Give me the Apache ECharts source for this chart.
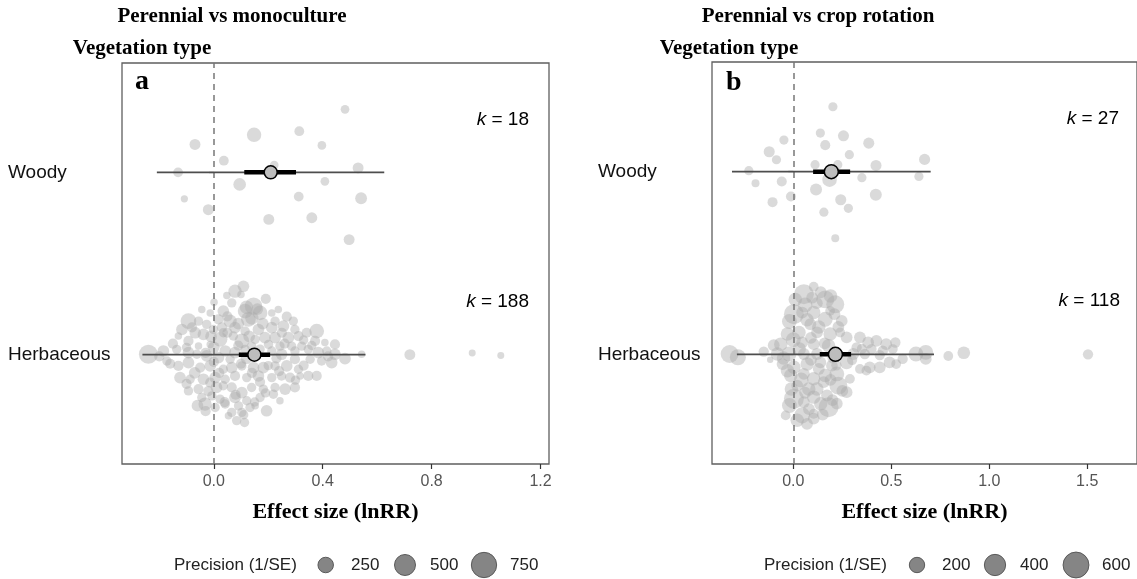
<!DOCTYPE html>
<html><head><meta charset="utf-8">
<script src="https://cdn.jsdelivr.net/npm/echarts@6/dist/echarts.min.js"></script>
<style>html,body{margin:0;padding:0;background:#fff}#c{width:1137px;height:579px}</style>
</head><body><div id="c"></div>
<script>
// ---------------- DATA ----------------
const categories = ['Herbaceous', 'Woody'];          // y positions 1 and 2
const panelTitles = ['Perennial vs monoculture', 'Perennial vs crop rotation'];
const panelLetters = ['a', 'b'];
const groupLabel = 'Vegetation type';
const xAxisTitle = 'Effect size (lnRR)';
const legendTitle = 'Precision (1/SE)';
const kA = [188, 18];   // [Herbaceous, Woody]
const kB = [118, 27];
const xTicksA = [0, 0.4, 0.8, 1.2];
const xTicksB = [0, 0.5, 1.0, 1.5];
const legendValuesA = [250, 500, 750];
const legendValuesB = [200, 400, 600];

// summary rows: [estimate, ciLow, ciHigh, piLow, piHigh]
const summaryA_Herb  = [0.149, 0.092, 0.207, -0.262, 0.557];
const summaryA_Woody = [0.209, 0.112, 0.302, -0.209, 0.626];
const summaryB_Herb  = [0.215, 0.135, 0.295, -0.288, 0.718];
const summaryB_Woody = [0.194, 0.101, 0.290, -0.313, 0.701];

// individual effect sizes: [lnRR, vertical jitter, precision]
const pointsA_Woody = [
[0.482,0.346,45],[0.148,0.206,210],[0.314,0.226,70],[-0.069,0.153,100],[0.397,0.148,45],[0.037,0.064,70],
[0.222,0.040,45],[-0.131,0.000,70],[0.530,0.024,100],[0.095,-0.066,150],[0.408,-0.049,45],[-0.108,-0.145,15],
[0.312,-0.133,70],[0.541,-0.142,125],[-0.020,-0.205,100],[0.202,-0.258,100],[0.360,-0.249,100],[0.497,-0.369,100]
];
const pointsA_Herb = [
[0.109,0.375,120],[0.078,0.348,170],[0.048,0.324,20],[0.100,0.330,20],[0.191,0.306,80],[0.001,0.288,20],
[-0.044,0.248,20],[0.066,0.284,60],[0.146,0.266,330],[0.115,0.239,220],[0.170,0.229,220],[0.035,0.239,120],
[-0.013,0.229,20],[0.213,0.229,20],[0.237,0.248,20],[0.268,0.208,80],[-0.093,0.184,260],[-0.056,0.184,60],
[0.017,0.193,80],[0.060,0.184,170],[0.127,0.193,220],[0.225,0.184,60],[0.292,0.184,60],[-0.026,0.166,60],
[0.078,0.148,120],[0.164,0.138,120],[0.213,0.148,120],[0.256,0.157,120],[-0.117,0.138,120],[-0.068,0.120,120],
[-0.001,0.138,60],[0.035,0.120,60],[0.115,0.129,60],[0.298,0.138,60],[0.378,0.129,220],[0.341,0.120,80],
[-0.130,0.102,20],[-0.093,0.075,80],[-0.038,0.111,120],[0.023,0.084,220],[0.072,0.102,60],[0.103,0.075,220],
[0.152,0.084,60],[0.188,0.093,120],[0.225,0.093,120],[0.274,0.093,120],[0.311,0.102,80],[0.372,0.075,80],
[0.323,0.047,60],[0.445,0.056,80],[0.408,0.066,20],[-0.056,0.047,20],[-0.013,0.056,20],[0.139,0.047,60],
[0.201,0.056,60],[0.243,0.047,60],[0.286,0.047,60],
[-0.240,0.002,400],[-0.185,0.020,120],[-0.172,-0.035,60],[-0.136,0.029,60],[-0.093,0.011,120],[-0.062,0.002,60],
[-0.026,-0.007,120],[0.042,0.020,120],[0.078,0.011,120],[0.115,0.029,60],[0.213,0.020,60],[0.249,0.002,120],
[0.298,0.020,60],[0.347,0.029,60],[0.384,0.011,120],[0.415,0.020,60],[0.445,0.002,120],[0.482,-0.022,120],
[0.543,0.002,20],[0.017,-0.016,120],[0.060,-0.025,60],[0.298,-0.025,80],[0.354,-0.025,60],[0.433,-0.044,120],
[0.396,-0.035,60],
[-0.130,-0.062,80],[-0.093,-0.044,120],[-0.050,-0.071,80],[-0.013,-0.062,120],[0.035,-0.080,60],[0.066,-0.071,120],
[0.103,-0.062,60],[0.146,-0.071,120],[0.182,-0.071,120],[0.225,-0.062,60],[0.268,-0.062,120],[0.311,-0.080,60],
[0.347,-0.117,80],[0.378,-0.117,80],[-0.124,-0.126,120],[-0.087,-0.135,60],[-0.038,-0.135,120],[0.005,-0.126,120],
[0.042,-0.135,60],[0.078,-0.117,80],[0.121,-0.126,60],[0.164,-0.117,120],[0.213,-0.126,60],[0.249,-0.117,60],
[0.280,-0.126,80],[0.317,-0.117,20],[-0.093,-0.199,60],[-0.056,-0.189,80],[-0.013,-0.153,80],[0.035,-0.171,60],
[0.066,-0.180,80],[0.103,-0.208,120],[0.139,-0.180,60],[0.182,-0.189,60],[0.225,-0.180,60],[0.262,-0.189,120],
[0.298,-0.180,80],[-0.044,-0.235,60],[-0.007,-0.226,60],[0.023,-0.244,60],[0.078,-0.235,120],[0.121,-0.253,60],
[0.170,-0.235,60],[0.219,-0.217,60],[0.243,-0.253,20],[-0.032,-0.271,170],[0.005,-0.290,60],[0.042,-0.271,60],
[0.091,-0.281,60],[0.133,-0.290,60],[0.152,-0.281,20],[0.194,-0.308,120],[0.066,-0.317,60],[0.054,-0.335,20],
[0.103,-0.317,60],[0.084,-0.362,60],[0.113,-0.372,60],
[0.720,0.000,100],[0.949,0.009,11],[1.054,-0.005,11],
[0.120,0.260,170],[0.160,0.250,120],[0.140,0.200,170],[0.180,0.170,120],[0.050,0.210,80],[0.090,0.170,120],
[0.030,0.150,80],[-0.080,0.150,80],[-0.010,0.100,120],[0.050,0.120,80],[0.130,0.100,120],[0.250,0.120,80],
[0.330,0.080,60],[-0.150,0.060,80],[-0.100,0.040,60],[0.000,0.040,120],[0.090,0.050,80],[0.170,0.030,60],
[0.260,0.060,80],[0.360,0.050,60],[-0.200,-0.010,80],[-0.030,0.010,80],[0.120,-0.020,120],[0.230,-0.020,80],
[0.420,-0.010,80],[-0.160,-0.050,80],[0.000,-0.040,80],[0.100,-0.050,80],[0.200,-0.060,60],[0.330,-0.060,80],
[-0.070,-0.100,120],[0.020,-0.100,80],[0.140,-0.100,80],[0.240,-0.090,80],[-0.100,-0.160,80],[0.010,-0.180,120],
[0.170,-0.150,80],[0.300,-0.140,60],[-0.020,-0.200,80],[0.080,-0.220,80],[0.190,-0.210,60],[0.040,-0.260,80],
[0.150,-0.260,60],[-0.060,-0.280,120],[0.110,-0.330,60],[-0.030,-0.310,80]
];
const pointsB_Woody = [
[0.202,0.355,60],[0.138,0.211,60],[0.256,0.196,95],[-0.048,0.173,60],[0.163,0.145,75],[0.385,0.156,95],
[-0.123,0.109,95],[0.286,0.093,60],[-0.086,0.065,60],[0.670,0.067,95],[0.111,0.038,60],[0.227,0.038,60],
[0.422,0.034,95],[-0.227,0.005,60],[-0.193,-0.064,40],[-0.059,-0.054,75],[0.185,-0.044,180],[0.350,-0.033,60],
[0.641,-0.026,60],[0.116,-0.098,115],[-0.012,-0.136,75],[0.421,-0.127,115],[-0.106,-0.167,75],[0.242,-0.154,95],
[0.281,-0.201,60],[0.156,-0.222,60],[0.214,-0.365,40]
];
const pointsB_Herb = [
[0.104,0.370,70],[0.054,0.329,350],[0.163,0.301,280],[0.214,0.274,280],[0.096,0.310,110],[0.003,0.220,350],
[0.104,0.229,150],[0.163,0.192,185],[0.247,0.183,110],[0.045,0.229,110],[0.188,0.238,70],[0.087,0.165,110],
[0.121,0.120,110],[0.029,0.120,150],[0.188,0.111,150],[0.239,0.120,70],[-0.030,0.111,150],[0.272,0.093,110],
[0.340,0.093,110],[0.382,0.065,110],[0.424,0.074,110],[0.474,0.056,110],[0.521,0.065,80],[-0.064,0.056,150],
[0.045,0.065,110],[0.104,0.056,110],[0.180,0.047,150],[0.323,0.038,80],[0.399,0.029,80],[0.457,0.020,80],
[0.508,0.029,70],
[-0.325,0.002,280],[-0.283,-0.016,220],[-0.151,0.015,80],[-0.118,-0.029,20],[-0.081,0.002,150],[-0.022,0.002,185],
[0.054,0.002,110],[0.121,0.002,110],[0.306,0.002,110],[0.365,0.002,80],[0.441,-0.004,80],[0.558,-0.025,80],
[0.626,0.002,185],[0.676,0.011,185],[0.676,-0.025,110],
[-0.055,-0.053,110],[0.003,-0.071,150],[0.071,-0.053,150],[0.138,-0.044,110],[0.197,-0.062,110],[0.272,-0.044,150],
[0.340,-0.080,70],[0.390,-0.071,110],[0.441,-0.071,110],[0.491,-0.044,110],[0.525,-0.053,70],[-0.013,-0.116,150],
[0.054,-0.107,110],[0.104,-0.134,150],[0.163,-0.116,150],[0.222,-0.107,185],[0.020,-0.171,110],[0.079,-0.189,150],
[0.155,-0.152,110],[0.230,-0.171,280],[0.003,-0.243,350],[0.104,-0.234,150],[0.172,-0.225,110],[0.222,-0.270,110],
[0.180,-0.289,350],[0.054,-0.261,110],[0.045,-0.334,220],[0.104,-0.352,110],[0.104,-0.325,70],[-0.039,-0.334,70],
[0.289,-0.134,70],[0.272,-0.207,110],[0.373,-0.089,70],
[0.791,-0.009,70],[0.870,0.009,130],[1.504,0.000,80],
[0.010,0.300,150],[0.140,0.340,110],[0.060,0.270,185],[0.190,0.320,150],[0.120,0.280,110],[-0.020,0.180,185],
[0.070,0.190,150],[0.210,0.220,110],[0.130,0.150,150],[0.000,0.080,185],[0.090,0.090,110],[0.230,0.150,110],
[-0.100,0.050,110],[0.030,0.030,150],[0.160,0.060,110],[-0.050,-0.020,150],[0.090,-0.030,110],[0.200,-0.020,80],
[-0.030,-0.090,150],[0.130,-0.080,110],[0.220,-0.060,80],[0.040,-0.140,185],[0.190,-0.140,110],[-0.010,-0.190,150],
[0.120,-0.190,150],[0.250,-0.200,110],[0.060,-0.210,110],[-0.020,-0.280,185],[0.140,-0.270,150],[0.080,-0.300,110],
[0.200,-0.250,110],[0.020,-0.360,150],[0.150,-0.330,110],[0.070,-0.380,110],[0.350,0.030,80],[0.300,-0.030,80]
];

// ---------------- STYLE / LAYOUT ----------------
const SERIF = '"Liberation Serif", "Times New Roman", serif';
const SANS = '"Liberation Sans", Arial, sans-serif';
const sizeA = { a: 10, b: 0.2 };    // radius^2 = a + b*precision
const sizeB = { a: 5, b: 0.27 };
const radius = (s, p) => Math.sqrt(s.a + s.b * p);

const grids = [
  { left: 122, top: 63, width: 427, height: 401 },
  { left: 712, top: 62, width: 430, height: 402 }
];
const xRanges = [[-0.337, 1.231], [-0.415, 1.754]];

function pts(arr, catIdx) {
  return arr.map(d => [d[0], catIdx + 1 + d[1], d[2]]);
}
function summ(row, catIdx) {
  return [catIdx + 1].concat(row);
}

const pointStyle = { color: 'rgba(170,170,170,0.55)' };

function scatter(data, gi, s, withZero) {
  const o = {
    type: 'scatter', xAxisIndex: gi, yAxisIndex: gi, data: data,
    symbolSize: v => 2 * radius(s, v[2]),
    itemStyle: pointStyle, z: 2, silent: true
  };
  if (withZero) {
    o.markLine = {
      silent: true, symbol: ['none', 'none'], label: { show: false },
      lineStyle: { color: '#777', width: 1.5, type: [6, 5] },
      data: [{ xAxis: 0 }]
    };
  }
  return o;
}

function summarySeries(data, gi, r) {
  return {
    type: 'custom', xAxisIndex: gi, yAxisIndex: gi, z: 5, silent: true,
    encode: { x: [1, 2, 3, 4, 5], y: 0 },
    data: data,
    renderItem: function (params, api) {
      const y = api.value(0);
      const est = api.coord([api.value(1), y]);
      const ciL = api.coord([api.value(2), y]);
      const ciH = api.coord([api.value(3), y]);
      const piL = api.coord([api.value(4), y]);
      const piH = api.coord([api.value(5), y]);
      return {
        type: 'group', children: [
          { type: 'line', shape: { x1: piL[0], y1: piL[1], x2: piH[0], y2: piH[1] }, style: { stroke: '#4d4d4d', lineWidth: 1.6 } },
          { type: 'line', shape: { x1: ciL[0], y1: ciL[1], x2: ciH[0], y2: ciH[1] }, style: { stroke: '#000', lineWidth: 4.5 } },
          { type: 'circle', shape: { cx: est[0], cy: est[1], r: r }, style: { fill: '#bdbdbd', stroke: '#000', lineWidth: 1.5 } }
        ]
      };
    }
  };
}

function xAxis(gi, ticks) {
  return {
    type: 'value', gridIndex: gi, min: xRanges[gi][0], max: xRanges[gi][1],
    name: xAxisTitle, nameLocation: 'middle', nameGap: 37,
    nameTextStyle: { fontFamily: SERIF, fontWeight: 'bold', fontSize: 22, color: '#000' },
    axisLine: { show: false },
    axisTick: { show: true, length: 5, customValues: ticks, lineStyle: { color: '#333', width: 1.2 } },
    axisLabel: { customValues: ticks, formatter: v => v.toFixed(1), fontFamily: SANS, fontSize: 16, color: '#555', margin: 10 },
    splitLine: { show: false }
  };
}
function yAxis(gi) {
  return {
    type: 'value', gridIndex: gi, min: 0.4, max: 2.6,
    axisLine: { show: false },
    axisTick: { show: true, length: 5, customValues: [1, 2], lineStyle: { color: '#333', width: 1.2 } },
    axisLabel: { customValues: [1, 2], formatter: v => categories[Math.round(v) - 1], align: 'left', margin: 114,
      fontFamily: SANS, fontSize: 19, color: '#111' },
    splitLine: { show: false }
  };
}

function txt(x, y, text, font, size, weight, align, color, extra) {
  const st = Object.assign({ text: text, x: x, y: y, fontFamily: font, fontSize: size, fontWeight: weight || 'normal',
    fill: color || '#000', textAlign: align || 'left', textVerticalAlign: 'middle' }, extra || {});
  return { type: 'text', style: st, silent: true };
}
function kText(x, y, k) {
  return txt(x, y, '{i|k} = ' + k, SANS, 19, 'normal', 'right', '#000',
    { rich: { i: { fontStyle: 'italic', fontFamily: SANS, fontSize: 19 } } });
}
function legend(x0, circlesX, labelsX, values, s) {
  const els = [txt(x0, 565, legendTitle, SANS, 17, 'normal', 'left', '#222')];
  values.forEach((v, i) => {
    els.push({ type: 'circle', shape: { cx: circlesX[i], cy: 565, r: radius(s, v) },
      style: { fill: '#858585', stroke: '#5a5a5a', lineWidth: 1 }, silent: true });
    els.push(txt(labelsX[i], 565, String(v), SANS, 17, 'normal', 'left', '#222'));
  });
  return els;
}

const graphics = [].concat(
  [txt(232, 17, panelTitles[0], SERIF, 21, 'bold', 'center'),
   txt(142, 49, groupLabel, SERIF, 21, 'bold', 'center'),
   txt(818, 17, panelTitles[1], SERIF, 21, 'bold', 'center'),
   txt(729, 49, groupLabel, SERIF, 21, 'bold', 'center'),
   txt(135, 82, panelLetters[0], SERIF, 28, 'bold', 'left'),
   txt(726, 83, panelLetters[1], SERIF, 28, 'bold', 'left'),
   kText(529, 119.5, kA[1]), kText(529, 301.5, kA[0]),
   kText(1119, 119, kB[1]), kText(1120, 301, kB[0])],
  legend(174, [325.7, 405, 484], [351, 430, 510], legendValuesA, sizeA),
  legend(764, [917, 995, 1076], [942, 1020, 1102], legendValuesB, sizeB)
);

const chart = echarts.init(document.getElementById('c'), null, { renderer: 'canvas' });
chart.setOption({
  animation: false,
  backgroundColor: '#fff',
  grid: grids.map(g => Object.assign({ show: true, borderColor: '#5f5f5f', borderWidth: 1.3, backgroundColor: 'transparent' }, g)),
  xAxis: [xAxis(0, xTicksA), xAxis(1, xTicksB)],
  yAxis: [yAxis(0), yAxis(1)],
  series: [
    scatter(pts(pointsA_Herb, 0), 0, sizeA, true),
    scatter(pts(pointsA_Woody, 1), 0, sizeA, false),
    scatter(pts(pointsB_Herb, 0), 1, sizeB, true),
    scatter(pts(pointsB_Woody, 1), 1, sizeB, false),
    summarySeries([summ(summaryA_Herb, 0), summ(summaryA_Woody, 1)], 0, 6.5),
    summarySeries([summ(summaryB_Herb, 0), summ(summaryB_Woody, 1)], 1, 7)
  ],
  graphic: graphics
});
</script>
</body></html>
